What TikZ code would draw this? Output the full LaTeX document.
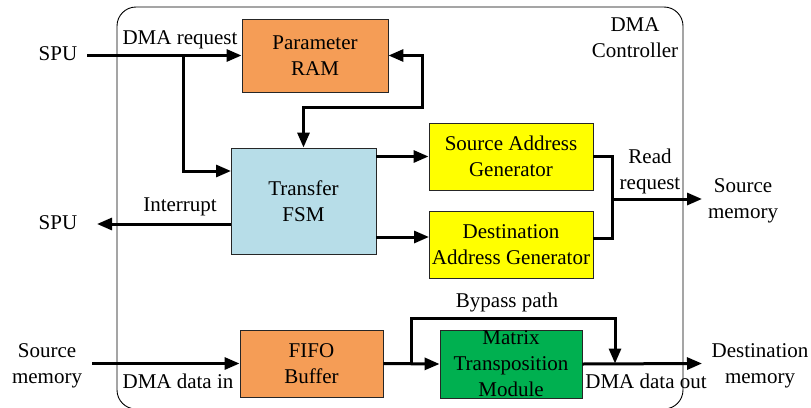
\documentclass[tikz,border=0pt]{standalone}
\usepackage{fontspec}
\setmainfont{Liberation Serif}
\usetikzlibrary{arrows.meta}
\definecolor{porange}{HTML}{F59D56}
\definecolor{pblue}{HTML}{B7DDE8}
\definecolor{pyellow}{HTML}{FFFF00}
\definecolor{pgreen}{HTML}{00B050}
\tikzset{
  blk/.style={draw=black!85, line width=0.9pt, inner sep=0pt, align=center,
    font=\fontsize{21}{26}\selectfont},
  lbl/.style={inner sep=0pt, align=center, font=\fontsize{21}{26}\selectfont},
  wire/.style={line width=3pt},
  arr/.style={line width=3pt, -{Triangle[length=15pt,width=12pt]}},
  both/.style={line width=3pt, {Triangle[length=15pt,width=12pt]}-{Triangle[length=15pt,width=12pt]}}
}
\begin{document}
\begin{tikzpicture}[x=1pt,y=-1pt]
\useasboundingbox (0,0) rectangle (811,407);
% outer controller box
\draw[line width=0.9pt, rounded corners=19pt] (117,7) rectangle (683,409);
\node[lbl] (ctrl) at (635,38) {DMA\\Controller};

% blocks
\node[blk, fill=porange, minimum width=146pt, minimum height=73pt] (pram) at (315,55.5) {Parameter\\RAM};
\node[blk, fill=pblue, minimum width=145pt, minimum height=106pt] (fsm) at (303.5,201) {Transfer\\FSM};
\node[blk, fill=pyellow, minimum width=164pt, minimum height=67pt] (sag) at (511,156.5) {Source Address\\Generator};
\node[blk, fill=pyellow, minimum width=164pt, minimum height=67pt] (dag) at (511,244.5) {Destination\\Address Generator};
\node[blk, fill=porange, minimum width=143pt, minimum height=67pt] (fifo) at (311.5,363.5) {FIFO\\Buffer};
\node[blk, fill=pgreen, minimum width=142pt, minimum height=68pt] (mtm) at (511,364) {Matrix\\Transposition\\Module};

% outside labels
\node[lbl] (spu1) at (58,54) {SPU};
\node[lbl] (spu2) at (58,223) {SPU};
\node[lbl] (srcmem1) at (743,201) {Source\\memory};
\node[lbl] (srcmem2) at (47,366) {Source\\memory};
\node[lbl] (dstmem) at (760,366) {Destination\\memory};

% connector labels
\node[lbl] (ldmareq) at (180,40) {DMA request};
\node[lbl] (lint) at (180,207) {Interrupt};
\node[lbl] (lread) at (650,171) {Read\\request};
\node[lbl] (lbyp) at (507,302) {Bypass path};
\node[lbl] (ldin) at (178,381) {DMA data in};
\node[lbl] (ldout) at (646,381) {DMA data out};

% coordinates
\coordinate (spuin) at (87,55.5);
\coordinate (br1) at (183,55.5);
\coordinate (fsmin) at (231,171);
\coordinate (loop) at (422,107);
\coordinate (intout) at (231,224);
\coordinate (intend) at (97,224);
\coordinate (dagin) at (429,237);
\coordinate (dagout) at (593,238);
\coordinate (rr) at (612,199);
\coordinate (rrend) at (702,199);
\coordinate (srcin) at (92,363.5);
\coordinate (byp) at (411,363.5);
\coordinate (bypdn) at (615,363.5);
\coordinate (outend) at (702,363.5);

% connectors
\draw[arr] (spuin) -- (pram.west);
\draw[arr] (br1) |- (fsmin);
\draw[both] (pram.east) -| (loop) -| (fsm.north);
\draw[arr] (intout) -- (intend);
\draw[arr] (fsm.east |- sag.west) -- (sag.west);
\draw[arr] (fsm.east |- dagin) -- (dagin);
\draw[wire] (sag.east) -| (rr);
\draw[wire] (dagout) -| (rr);
\draw[arr] (rr) -- (rrend);
\draw[arr] (srcin) -- (fifo.west);
\draw[arr] (fifo.east) -- (mtm.west);
\draw[arr] (byp) |- (615,318) -- (bypdn);
\draw[arr] (mtm.east) -- (outend);
\end{tikzpicture}
\end{document}
